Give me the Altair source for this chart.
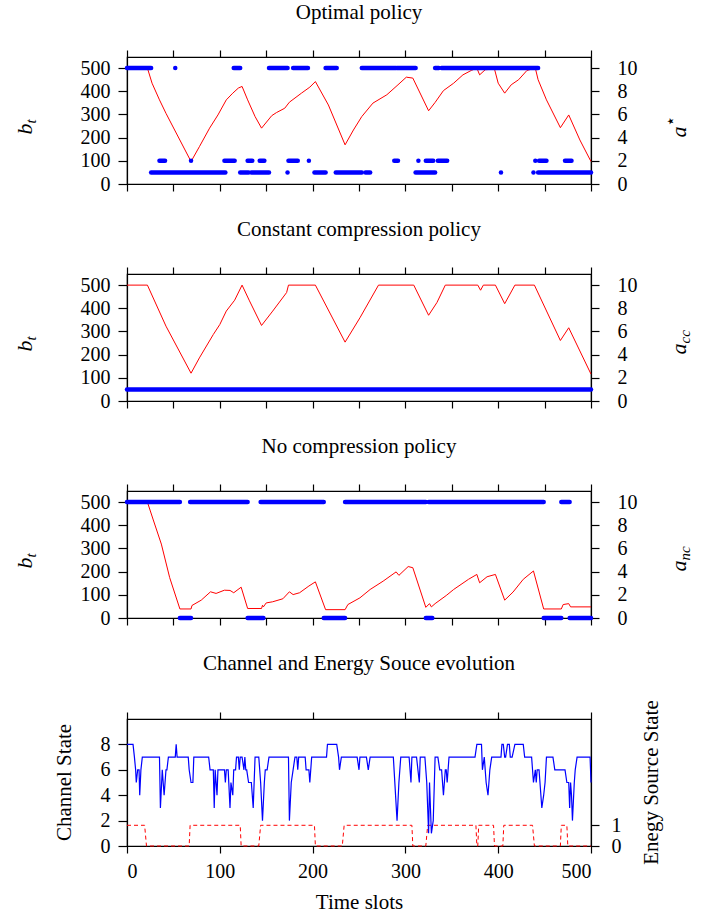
import altair as alt
import pandas as pd

FONT = "Liberation Serif"
BLUE = "#0000ff"
RED = "#ff0000"
W, H = 464, 127

# ---------------- Panel 1: optimal policy ----------------
p1_t = [0, 22, 27, 35, 42, 69, 78, 89, 98, 107, 114, 120, 124, 130, 138, 145, 156, 161, 170, 175, 188, 197,
        203, 217, 235, 244, 253, 265, 280, 292, 301, 308, 325, 332, 341, 352, 362, 371, 377, 380, 386, 396,
        400, 407, 414, 422, 431, 440, 443, 452, 467, 476, 488, 500]
p1_b = [500, 500, 435, 363, 305, 97, 161, 241, 298, 363, 392, 414, 421, 363, 291, 241, 295, 308, 327, 353, 392, 418,
        442, 341, 169, 233, 291, 349, 385, 428, 461, 457, 316, 352, 403, 435, 471, 490, 500, 471, 493, 496,
        435, 392, 428, 450, 490, 500, 450, 363, 243, 298, 190, 97]
# runs of the optimal action a* (start slot, end slot, action)
p1_run_start = [0, 52, 115, 153, 179, 214, 253, 291, 332, 339,
                35, 69, 105, 130, 143, 174, 196, 288, 314, 322, 335, 440, 444, 472,
                26, 122, 134, 173, 202, 225, 257, 311, 403, 438, 443]
p1_run_end = [26, 52, 122, 173, 195, 226, 290, 311, 336, 443,
              41, 69, 116, 135, 148, 184, 196, 292, 314, 330, 345, 440, 452, 479,
              106, 131, 153, 173, 214, 253, 262, 332, 403, 438, 500]
p1_run_a = [10] * 10 + [2] * 14 + [1] * 11

# ---------------- Panel 2: constant compression ----------------
p2_t = [0, 22, 42, 69, 78, 93, 100, 107, 116, 124, 132, 145, 157, 172, 174, 203, 235, 251, 271, 309, 325, 334,
        343, 378, 381, 384, 397, 407, 418, 439, 467, 476, 500]
p2_b = [500, 500, 323, 120, 186, 287, 330, 388, 435, 500, 432, 326, 388, 468, 500, 500, 254, 359, 500, 500, 370, 425,
        500, 500, 478, 500, 500, 420, 500, 500, 261, 316, 116]
p2_run_start = [0]
p2_run_end = [500]
p2_run_a = [1]

# ---------------- Panel 3: no compression ----------------
p3_t = [0, 22, 28, 37, 46, 57, 69, 70, 80, 90, 96, 105, 111, 115, 123, 130, 145, 146, 147, 150, 157, 168, 175,
        179, 186, 196, 203, 214, 235, 238, 251, 262, 276, 290, 293, 303, 308, 322, 326, 328, 332, 344, 352, 368,
        377, 380, 388, 397, 407, 416, 427, 438, 449, 468, 470, 476, 478, 500]
p3_b = [500, 500, 427, 319, 174, 39, 39, 54, 77, 113, 106, 120, 119, 109, 133, 41, 41, 55, 48, 65, 70, 83, 113,
        101, 109, 138, 156, 36, 36, 58, 87, 123, 159, 199, 184, 222, 217, 46, 62, 48, 62, 97, 123, 167,
        188, 152, 178, 188, 77, 112, 167, 203, 39, 39, 58, 62, 48, 48]
p3_run_start = [0, 68, 144, 235, 325, 468, 57, 130, 212, 322, 449, 477]
p3_run_end = [57, 130, 212, 322, 449, 477, 69, 147, 235, 329, 468, 500]
p3_run_a = [10] * 6 + [0] * 6

# ---------------- Panel 4: channel & energy source ----------------
ch_t = [0, 6.5, 8, 9.3, 10, 11.5, 13, 13.7, 15, 16.5, 35, 36, 38, 40, 42, 43, 44.6, 52, 53, 54, 66, 67, 69, 71,
        72, 88, 89.5, 93, 94, 95, 97, 98, 105, 106, 107, 109, 111, 112, 114, 115, 117, 118, 120, 121, 122,
        124, 126, 127, 128, 129, 131, 134, 136, 138, 142, 144, 146, 148, 149, 151, 153, 174, 175, 177, 179,
        181, 183, 184, 185, 192, 193, 196, 197, 199, 215, 216, 226, 228, 229, 231, 248, 250, 251, 258, 260,
        262, 287, 291, 293, 295, 304, 306, 307, 312, 315, 316, 321, 323, 325, 326, 328, 330, 332, 335, 337,
        339, 341, 343, 344, 345, 347, 375, 377, 382, 383, 385, 387, 389, 391, 393, 403, 404, 405.5, 407, 408,
        410, 412, 413, 415, 418, 427, 428.5, 436, 438, 440, 441, 442, 444, 447, 449, 450.5, 452, 459, 461,
        472, 474, 476, 477, 478, 479, 480, 482, 483, 485, 499, 500]
ch_v = [8, 8, 7, 6, 5, 6, 6, 4, 6, 7, 7, 3, 6, 4, 6, 6, 7, 7, 8, 7, 7, 6, 5, 5,
        7, 7, 6, 6, 3, 6, 4, 6, 6, 5, 6, 6, 3, 5, 4, 6, 6, 7, 7, 6, 7,
        7, 6, 7, 6, 6, 5, 5, 3, 7, 7, 5, 2, 5, 6, 6, 7, 7, 2, 5, 6,
        7, 7, 6, 7, 7, 6, 6, 5, 7, 7, 8, 8, 7, 6, 7, 7, 6, 7, 7, 6,
        7, 7, 2, 5, 7, 7, 5, 7, 7, 5, 7, 7, 5, 1, 5, 1, 2, 7, 7, 6,
        6, 4, 6, 6, 5, 7, 7, 8, 8, 6, 7, 5, 4, 6, 7, 7, 8, 8, 7, 7,
        8, 8, 7, 7, 8, 8, 7, 7, 5, 6, 5, 6, 6, 3, 4, 5, 7, 7, 6,
        6, 5, 5, 3, 5, 4, 2, 5, 6, 7, 7, 5]
en_t = [0, 19, 21, 67, 68, 122, 123, 142, 144, 202, 203, 232, 234, 307, 308, 322, 324, 376, 377, 378, 379,
        395, 396, 405, 406, 437, 439, 467, 468, 474, 475, 500]
en_v = [1, 1, 0, 0, 1, 1, 0, 0, 1, 1, 0, 0, 1, 1, 0, 0, 1, 1, 0, 0, 1,
        1, 0, 0, 1, 1, 0, 0, 1, 1, 0, 0]

titles = ["Optimal policy", "Constant compression policy", "No compression policy",
          "Channel and Energy Souce evolution"]

one = pd.DataFrame({"k": [0]})


def txt(text, x, y, size=21, dy=0, align="center", angle=270, italic=False, font=FONT):
    return alt.Chart(one).mark_text(
        text=text, font=font, fontSize=size, fontStyle="italic" if italic else "normal",
        angle=angle, align=align, baseline="middle", dy=dy, color="black"
    ).encode(x=alt.value(x), y=alt.value(y))


def xs():
    return alt.Scale(domain=[0, 500], nice=False, zero=False)


def policy_panel(title, t, b, rs, re_, ra, sub, sup=False):
    red_df = pd.DataFrame({"t": t, "b": b})
    run_df = pd.DataFrame({"s": rs, "e": re_, "a": ra})
    red = alt.Chart(red_df).mark_line(color=RED, strokeWidth=1).encode(
        x=alt.X("t:Q", scale=xs(),
                axis=alt.Axis(values=list(range(0, 501, 50)), labels=False, title=None, tickSize=7, grid=False)),
        y=alt.Y("b:Q", scale=alt.Scale(domain=[0, 548], nice=False),
                axis=alt.Axis(values=list(range(0, 501, 100)), title=None, tickSize=9, labelPadding=8,
                              grid=False)),
        order="t:Q",
    )
    blue = alt.Chart(run_df).mark_rule(color=BLUE, strokeWidth=4.5, strokeCap="round").encode(
        x=alt.X("s:Q", scale=xs(),
                axis=alt.Axis(orient="top", values=list(range(0, 501, 50)), labels=False, title=None,
                              tickSize=7, grid=False)),
        x2="e:Q",
        y=alt.Y("a:Q", scale=alt.Scale(domain=[0, 10.96], nice=False),
                axis=alt.Axis(orient="right", values=list(range(0, 11, 2)), title=None, tickSize=8,
                              labelPadding=18, grid=False)),
    )
    texts = [
        txt("b", -102, H / 2 + 3, size=22, align="right", italic=True),
        txt("t", -102, H / 2 + 3, size=15, dy=6, align="left", italic=True),
        txt("a", W + 88, H / 2 + 6, size=22, align="right", italic=True),
    ]
    if sup:
        texts.append(txt("⋆", W + 89, H / 2 + 6, size=17, dy=-9, align="left", font="DejaVu Sans"))
    else:
        texts.append(txt(sub, W + 88, H / 2 + 6, size=15, dy=6, align="left", italic=True))
    return alt.layer(red, blue, *texts).resolve_scale(x="independent", y="independent").properties(
        width=W, height=H,
        title=alt.TitleParams(title, font=FONT, fontSize=21, fontWeight="normal", frame="group",
                              anchor="middle", offset=26, color="black"),
    )


pan1 = policy_panel(titles[0], p1_t, p1_b, p1_run_start, p1_run_end, p1_run_a, "", sup=True)
pan2 = policy_panel(titles[1], p2_t, p2_b, p2_run_start, p2_run_end, p2_run_a, "cc")
pan3 = policy_panel(titles[2], p3_t, p3_b, p3_run_start, p3_run_end, p3_run_a, "nc")

ch_df = pd.DataFrame({"t": ch_t, "v": ch_v})
en_df = pd.DataFrame({"t": en_t, "e": en_v})
ch = alt.Chart(ch_df).mark_line(color=BLUE, strokeWidth=1.2).encode(
    x=alt.X("t:Q", scale=xs(),
            axis=alt.Axis(values=list(range(0, 501, 100)), title="Time slots", tickSize=7, labelPadding=8,
                          titlePadding=10, grid=False)),
    y=alt.Y("v:Q", scale=alt.Scale(domain=[0, 10], nice=False),
            axis=alt.Axis(values=[0, 2, 4, 6, 8], title=None, tickSize=9, labelPadding=8, grid=False)),
    order="t:Q",
)
en = alt.Chart(en_df).mark_line(color=RED, strokeWidth=1, strokeDash=[4, 3]).encode(
    x=alt.X("t:Q", scale=xs(),
            axis=alt.Axis(orient="top", values=list(range(0, 501, 100)), labels=False, title=None, tickSize=7,
                          grid=False)),
    y=alt.Y("e:Q", scale=alt.Scale(domain=[0, 6.13], nice=False),
            axis=alt.Axis(orient="right", values=[0, 1], title=None, tickSize=8, labelPadding=12, grid=False)),
    order="t:Q",
)
pan4 = alt.layer(
    en, ch,
    txt("Channel State", -62, H / 2),
    txt("Enegy Source State", W + 61, H / 2),
).resolve_scale(x="independent", y="independent").properties(
    width=W, height=H,
    title=alt.TitleParams(titles[3], font=FONT, fontSize=21, fontWeight="normal", frame="group",
                          anchor="middle", offset=26, color="black"),
)

chart = alt.vconcat(pan1, pan2, pan3, pan4, spacing=23).properties(
    padding={"left": 13, "top": 1, "right": 5, "bottom": 5}, background="white"
).configure_view(stroke="black", strokeWidth=1.2).configure_axis(
    domainColor="black", domainWidth=1.2, tickColor="black", tickWidth=1.2,
    labelColor="black", labelFont=FONT, labelFontSize=20,
    titleColor="black", titleFont=FONT, titleFontSize=21, titleFontWeight="normal",
)

chart.save("out.html", embed_options={"renderer": "svg", "actions": False})
